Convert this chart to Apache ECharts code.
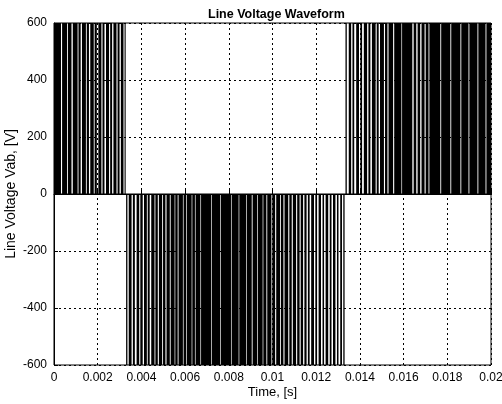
<!DOCTYPE html>
<html>
<head>
<meta charset="utf-8">
<script src="https://cdn.jsdelivr.net/npm/echarts@6/dist/echarts.min.js"></script>
<style>
  html, body { margin: 0; padding: 0; background: #fff; }
  #chart { width: 502px; height: 404px; }
</style>
</head>
<body>
<div id="chart"></div>
<script>
// pulse on-intervals, in ms
const posPulses1 = [
  [0, 0.32], [0.37, 0.60], [0.64, 0.80], [0.86, 1.08], [1.12, 1.22], [1.28, 1.46],
  [1.50, 1.60], [1.66, 1.82], [1.86, 1.96], [2.03, 2.17], [2.22, 2.31], [2.38, 2.52],
  [2.57, 2.66], [2.72, 2.86], [2.91, 3.00], [3.06, 3.18], [3.23, 3.28]
]
const negPulses = [
  [3.30, 3.36], [3.42, 3.55], [3.61, 3.70], [3.78, 3.90], [3.95, 4.06], [4.12, 4.25],
  [4.29, 4.38], [4.45, 4.60], [4.64, 4.75], [4.80, 4.95], [4.99, 5.10], [5.15, 5.30],
  [5.34, 5.52], [5.55, 5.66], [5.70, 5.90], [5.93, 6.05], [6.08, 6.30], [6.33, 6.45], [6.48, 6.70],
  [6.73, 7.20], [7.23, 7.60], [7.63, 8.10], [8.13, 8.45], [8.48, 8.80], [8.83, 9.05],
  [9.09, 9.30], [9.33, 9.55], [9.58, 9.72],
  [9.76, 9.95], [9.99, 10.12], [10.17, 10.35], [10.39, 10.50], [10.55, 10.72], [10.77, 10.88],
  [10.93, 11.08], [11.13, 11.24], [11.29, 11.40],
  [11.46, 11.56], [11.62, 11.70], [11.77, 11.90], [11.96, 12.04], [12.11, 12.22], [12.29, 12.36],
  [12.43, 12.55], [12.62, 12.70], [12.77, 12.88], [12.95, 13.02], [13.10, 13.18], [13.24, 13.30]
]
const posPulses2 = [
  [13.34, 13.40], [13.49, 13.60], [13.66, 13.74], [13.83, 13.96], [14.02, 14.10], [14.18, 14.33],
  [14.39, 14.48], [14.55, 14.72], [14.77, 14.86], [14.92, 15.10], [15.15, 15.26], [15.31, 15.52],
  [15.57, 15.90], [15.93, 16.40],
  [16.46, 16.58], [16.64, 16.76], [16.82, 16.96], [17.01, 17.14],
  [17.18, 17.68], [17.72, 18.14], [18.18, 18.60], [18.64, 18.97], [19.01, 19.38],
  [19.42, 19.75], [19.79, 20.0]
]
const dcLevel = 600
const timeRange = [0, 0.02]

// [start s, end s, amplitude] per pulse
const pulses = [
  ...posPulses1.map(([a, b]) => [a / 1000, b / 1000, dcLevel]),
  ...negPulses.map(([a, b]) => [a / 1000, b / 1000, -dcLevel]),
  ...posPulses2.map(([a, b]) => [a / 1000, b / 1000, dcLevel])
]

function renderPulse (params, api) {
  const p0 = api.coord([api.value(0), 0])
  const p1 = api.coord([api.value(1), api.value(2)])
  const x = Math.min(p0[0], p1[0])
  const y = Math.min(p0[1], p1[1])
  return {
    type: 'rect',
    shape: { x: x, y: y, width: Math.abs(p1[0] - p0[0]), height: Math.abs(p1[1] - p0[1]) },
    style: { fill: '#000', stroke: null }
  }
}

const font = 'Liberation Sans, Arial, sans-serif'
const myChart = echarts.init(document.getElementById('chart'))
const option = {
  animation: false,
  title: {
    text: 'Line Voltage Waveform',
    left: 203,
    top: 3,
    textStyle: { color: '#000', fontSize: 12.5, fontWeight: 'bold', fontFamily: font }
  },
  grid: {
    left: 54, right: 11, top: 23, bottom: 39,
    containLabel: false,
    outerBoundsMode: 'none',
    show: true, borderColor: '#000', borderWidth: 1
  },
  xAxis: {
    type: 'value',
    min: 0,
    max: 0.02,
    interval: 0.002,
    name: 'Time, [s]',
    nameLocation: 'middle',
    nameGap: 21,
    nameMoveOverlap: false,
    nameTextStyle: { color: '#000', fontSize: 13, fontFamily: font },
    axisLine: { show: true, lineStyle: { color: '#000' } },
    axisTick: { show: true, inside: true, length: 4, lineStyle: { color: '#000' } },
    axisLabel: {
      color: '#000', fontSize: 12, fontFamily: font, margin: 7,
      formatter: (v) => String(+v.toFixed(3))
    },
    splitLine: { show: true, lineStyle: { color: '#000', type: [2, 3], width: 1 } }
  },
  yAxis: {
    type: 'value',
    min: -600,
    max: 600,
    interval: 200,
    name: 'Line Voltage Vab, [V]',
    nameLocation: 'middle',
    nameGap: 36,
    nameMoveOverlap: false,
    nameTextStyle: { color: '#000', fontSize: 14, fontFamily: font },
    axisLine: { show: true, lineStyle: { color: '#000' } },
    axisTick: { show: true, inside: true, length: 4, lineStyle: { color: '#000' } },
    axisLabel: { color: '#000', fontSize: 12, fontFamily: font, margin: 7 },
    splitLine: { show: true, lineStyle: { color: '#000', type: [2, 3], width: 1 } }
  },
  series: [
    {
      type: 'custom',
      renderItem: renderPulse,
      data: pulses,
      encode: { x: [0, 1], y: 2 },
      z: 3
    },
    {
      // zero level of the waveform
      type: 'line',
      data: [[timeRange[0], 0], [timeRange[1], 0]],
      symbol: 'none',
      lineStyle: { color: '#000', width: 1 },
      z: 4
    }
  ]
}
myChart.setOption(option)
</script>
</body>
</html>
